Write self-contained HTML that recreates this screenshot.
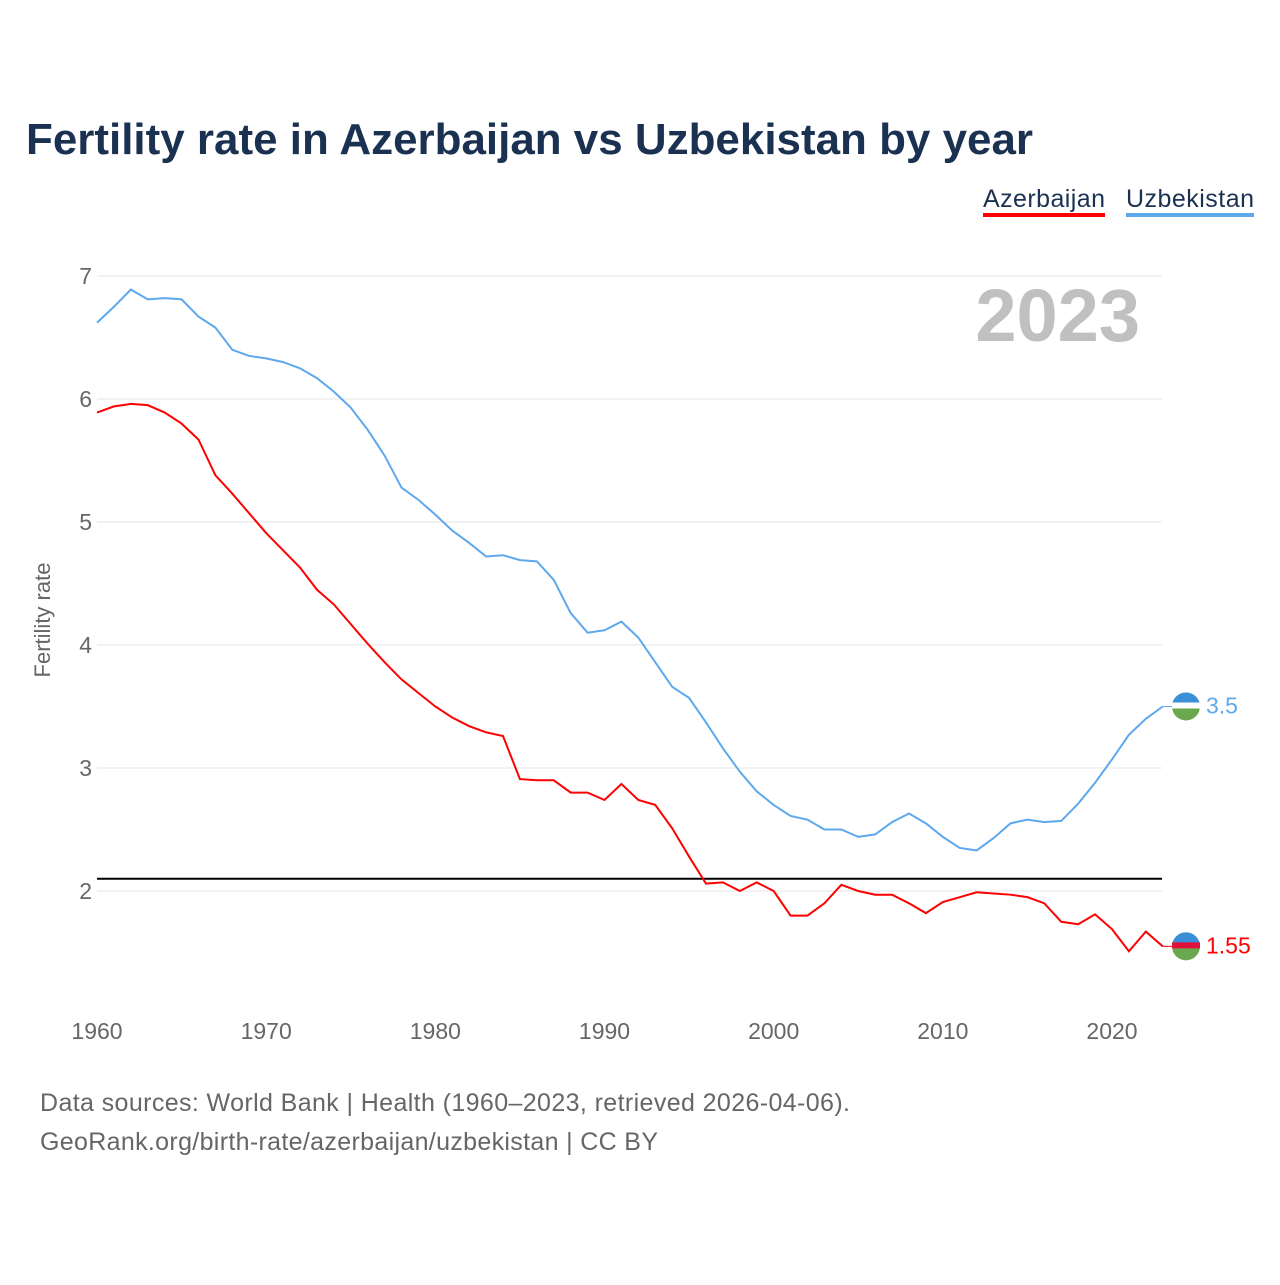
<!DOCTYPE html>
<html><head><meta charset="utf-8"><style>
body{margin:0;background:#fff;font-family:"Liberation Sans",sans-serif}
</style></head><body>
<svg width="1280" height="1280" viewBox="0 0 1280 1280" id="c">
<text x="26" y="154" font-size="44" font-weight="bold" fill="#1b3152" textLength="1007" lengthAdjust="spacingAndGlyphs">Fertility rate in Azerbaijan vs Uzbekistan by year</text>
<g><text x="983" y="207" font-size="25" fill="#1b3152" textLength="122">Azerbaijan</text><rect x="983" y="213" width="122" height="4" fill="#f00"/></g>
<g><text x="1126" y="207" font-size="25" fill="#1b3152" textLength="128">Uzbekistan</text><rect x="1126" y="213" width="128" height="4" fill="#5ea8ee"/></g>
<text x="1140" y="341" font-size="74" font-weight="bold" fill="#c0c0c0" text-anchor="end">2023</text>
<text transform="translate(50,620) rotate(-90)" font-size="22" fill="#666" text-anchor="middle">Fertility rate</text>
<g id="grid"></g><g id="lines"></g>
<text x="40" y="1111" font-size="25" fill="#666" textLength="810">Data sources: World Bank | Health (1960–2023, retrieved 2026-04-06).</text>
<text x="40" y="1150" font-size="25" fill="#666" textLength="618">GeoRank.org/birth-rate/azerbaijan/uzbekistan | CC BY</text>
</svg>
<script>
const years=[];for(let y=1960;y<=2023;y++)years.push(y);
const uzbekistan=[6.62,6.75,6.89,6.81,6.82,6.81,6.67,6.58,6.40,6.35,6.33,6.30,6.25,6.17,6.06,5.93,5.75,5.54,5.28,5.18,5.06,4.93,4.83,4.72,4.73,4.69,4.68,4.53,4.26,4.10,4.12,4.19,4.06,3.86,3.66,3.57,3.37,3.16,2.97,2.81,2.70,2.61,2.58,2.50,2.50,2.44,2.46,2.56,2.63,2.55,2.44,2.35,2.33,2.43,2.55,2.58,2.56,2.57,2.71,2.88,3.07,3.27,3.40,3.50];
const azerbaijan=[5.89,5.94,5.96,5.95,5.89,5.80,5.67,5.38,5.23,5.07,4.91,4.77,4.63,4.45,4.33,4.17,4.01,3.86,3.72,3.61,3.50,3.41,3.34,3.29,3.26,2.91,2.90,2.90,2.80,2.80,2.74,2.87,2.74,2.70,2.51,2.28,2.06,2.07,2.00,2.07,2.00,1.80,1.80,1.90,2.05,2.00,1.97,1.97,1.90,1.82,1.91,1.95,1.99,1.98,1.97,1.95,1.90,1.75,1.73,1.81,1.69,1.51,1.67,1.55];
const yTicks=[2,3,4,5,6,7];
const xTicks=[1960,1970,1980,1990,2000,2010,2020];
const refValue=2.1;
const X=y=>97+(y-1960)*(1015/60);
const Y=v=>891-(v-2)*123;
const NS="http://www.w3.org/2000/svg";
const g=document.getElementById('grid'),L=document.getElementById('lines');
function mk(tag,attrs,parent){const e=document.createElementNS(NS,tag);for(const k in attrs)e.setAttribute(k,attrs[k]);parent.appendChild(e);return e;}
yTicks.forEach(t=>{
 const l=mk('line',{x1:97,x2:1162,y1:Y(t),y2:Y(t),stroke:'#e6e6e6','stroke-width':1},g);
 
 
 const tx=mk('text',{x:92,y:Y(t)+8,'font-size':23,fill:'#666','text-anchor':'end'},g);tx.textContent=t;
 
 
});
xTicks.forEach(t=>{
 const tx=mk('text',{x:X(t),y:1039,'font-size':23,fill:'#666','text-anchor':'middle'},g);tx.textContent=t;
 
 
});
const r=mk('line',{x1:97,x2:1162,y1:Y(refValue),y2:Y(refValue),stroke:'#000','stroke-width':2},L);


function series(vals,color,name,label){
 const p=mk('polyline',{points:vals.map((v,i)=>X(years[i])+','+Y(v)).join(' '),fill:'none',stroke:color,'stroke-width':2},L);
 
 
 const last=vals[vals.length-1],cy=Y(last);
 mk('line',{x1:X(2023),x2:1172,y1:cy,y2:cy,stroke:color,'stroke-width':1},L);
 const c=mk('g',{},L);
 
 
 mk('circle',{cx:1186,cy:cy,r:14,fill:'#6aa84f'},c);
 mk('path',{d:`M1172 ${cy} A14 14 0 0 1 1200 ${cy} Z`,fill:'#3a8fd9'},c);
 mk('rect',{x:1172,y:cy-4,width:28,height:6,fill:name==='azerbaijan'?'#e0103a':'#fff'},c);
 const t=mk('text',{x:1206,y:cy+7,'font-size':23,fill:color},L);t.textContent=label;
 
 
}
series(uzbekistan,'#5ea8ee','uzbekistan','3.5');
series(azerbaijan,'#f00','azerbaijan','1.55');
</script>
</body></html>
